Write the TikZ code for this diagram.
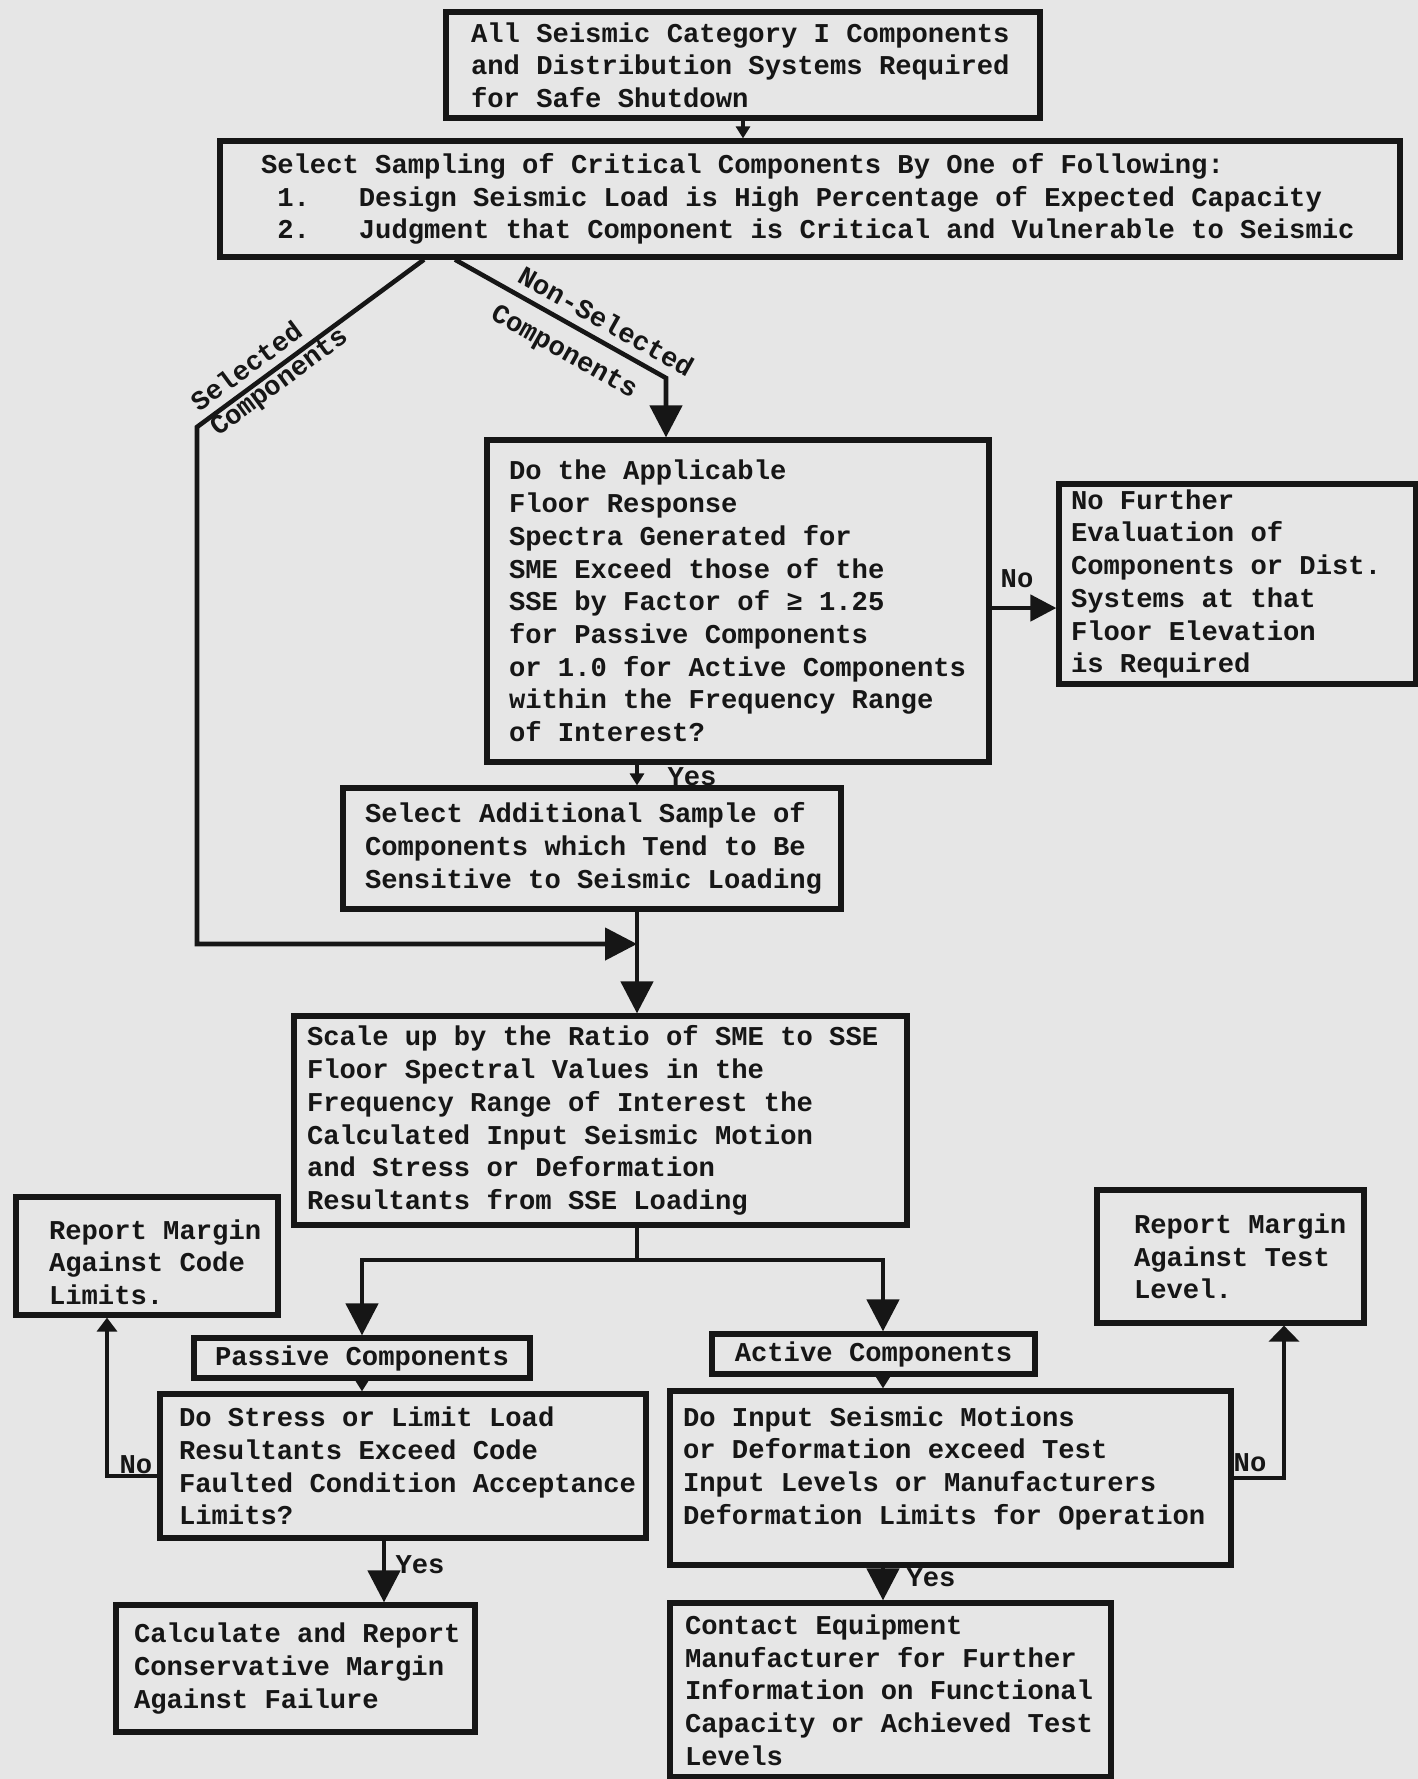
\documentclass[tikz,border=0pt]{standalone}
\usepackage{fontspec}
\newfontfamily\mono{Liberation Mono}
\usetikzlibrary{arrows.meta,calc}
\setlength{\parindent}{0pt}
\frenchspacing
\hbadness=10000
\hfuzz=100pt
\hyphenpenalty=10000
\exhyphenpenalty=10000
\newcommand{\flowfont}{\mono\bfseries\fontsize{13.6pt}{16.35pt}\selectfont}
\newcommand{\flowspace}{\spaceskip=0.6001em\xspaceskip=0.6001em\hyphenpenalty=10000\relax}
\definecolor{bgc}{RGB}{230,230,230}
\definecolor{ink}{RGB}{22,22,22}
\begin{document}
\begin{tikzpicture}[x=0.5pt,y=-0.5pt,
  txt/.style={font=\flowfont, text=ink, execute at begin node=\flowspace},
  box/.style={txt, draw=ink, line width=2.6pt, rectangle, align=left, inner ysep=0pt},
  cbox/.style={txt, draw=ink, line width=2.6pt, rectangle, align=center, inner sep=0pt},
  lbl/.style={txt, inner sep=0pt},
  conn/.style={draw=ink, line width=2.3pt},
  bigtip/.tip={Triangle[length=16pt,width=16pt]},
  midtip/.tip={Triangle[length=13pt,width=13pt]},
  smalltip/.tip={Triangle[length=6pt,width=7pt]},
  codetip/.tip={Triangle[length=7pt,width=10pt]},
  blobtip/.tip={Triangle[length=8pt,width=15pt]}
]
\useasboundingbox (0,0) rectangle (1418,1779);
\fill[bgc] (0,0) rectangle (1418,1779);

% helper coordinates
\coordinate (spine) at (637,0);
\coordinate (sAx) at (424,0);
\coordinate (sB) at (197,427);
\coordinate (nAx) at (455,0);
\coordinate (nB) at (666,378);
\coordinate (j1) at (637,944);
\coordinate (spL) at (362,1260);
\coordinate (spR) at (883,1260);
\coordinate (py) at (384,0);
\coordinate (nl) at (107,0);
\coordinate (nr) at (1284,0);

% boxes
\node[box, minimum width=297pt, minimum height=53pt, inner xsep=12.5pt, text width=272pt] (b1) at (743,65)
  {All~Seismic~Category~I~Components\\and~Distribution~Systems~Required\\for Safe Shutdown};
\node[box, minimum width=590pt, minimum height=58pt, inner xsep=20.5pt, text width=549pt] (b2) at (810,199)
  {Select Sampling of Critical Components By One of Following:\\~1.~~~Design~Seismic~Load~is~High~Percentage~of~Expected~Capacity\\~2.~~~Judgment~that~Component~is~Critical~and~Vulnerable~to~Seismic};
\node[box, minimum width=251pt, minimum height=161pt, inner xsep=11pt, text width=229pt] (b3) at (738,601)
  {Do the Applicable\\Floor Response\\Spectra Generated for\\SME Exceed those of the\\SSE by Factor of ≥ 1.25\\for Passive Components\\or~1.0~for~Active~Components\\within the Frequency Range\\of Interest?};
\node[box, minimum width=178.5pt, minimum height=100pt, inner xsep=6pt, text width=166.5pt] (b4) at (1237.5,584)
  {No Further\\Evaluation of\\Components~or~Dist.\\Systems at that\\Floor Elevation\\is Required};
\node[box, minimum width=249pt, minimum height=60.5pt, inner xsep=11pt, text width=227pt] (b5) at (592,848.5)
  {Select~Additional~Sample~of\\Components~which~Tend~to~Be\\Sensitive~to~Seismic~Loading};
\node[box, minimum width=306.5pt, minimum height=104.5pt, inner xsep=6.5pt, text width=293.5pt] (b6) at (600.5,1120.5)
  {Scale~up~by~the~Ratio~of~SME~to~SSE\\Floor Spectral Values in the\\Frequency~Range~of~Interest~the\\Calculated~Input~Seismic~Motion\\and Stress or Deformation\\Resultants from SSE Loading};
\node[box, minimum width=131pt, minimum height=59pt, inner xsep=16.5pt, text width=98pt] (bc) at (147,1256)
  {Report~Margin\\Against~Code\\Limits.\par\vspace*{-6pt}};
\node[box, minimum width=133.5pt, minimum height=66.5pt, inner xsep=18.5pt, text width=96.5pt] (bt) at (1230.5,1256.5)
  {Report~Margin\\Against~Test\\Level.};
\node[cbox, minimum width=168pt, minimum height=20pt] (bpc) at (362,1358) {Passive Components};
\node[cbox, minimum width=161.5pt, minimum height=20pt] (bac) at (873.5,1354) {Active Components};
\node[box, minimum width=243pt, minimum height=72pt, inner xsep=9.5pt, text width=224pt] (bpd) at (403,1466)
  {Do~Stress~or~Limit~Load\\Resultants~Exceed~Code\\Faulted~Condition~Acceptance\\Limits?};
\node[box, minimum width=280.5pt, minimum height=87pt, inner xsep=6.5pt, text width=267.5pt] (bad) at (950.5,1478)
  {Do Input Seismic Motions\\or~Deformation~exceed~Test\\Input~Levels~or~Manufacturers\\Deformation~Limits~for~Operation\par\vspace*{10pt}};
\node[box, minimum width=179.5pt, minimum height=63.5pt, inner xsep=9pt, text width=161.5pt] (bcalc) at (295.5,1668.5)
  {Calculate~and~Report\\Conservative~Margin\\Against Failure};
\node[box, minimum width=220.5pt, minimum height=87pt, inner xsep=7.5pt, text width=205.5pt] (bcon) at (890.5,1690)
  {Contact Equipment\\Manufacturer~for~Further\\Information~on~Functional\\Capacity~or~Achieved~Test\\Levels};

% connectors
\draw[conn, -{smalltip}] (b1.south) -- (b1.south |- b2.north);

\draw[conn, -{bigtip}] (b2.south -| sAx) -- (sB) -- (sB |- j1) -- (j1);
\path (sB) -- (b2.south -| sAx)
  node[lbl, pos=.27, sloped, above=4.7pt] (lsel1) {Selected}
  node[lbl, pos=.33, sloped, below=1pt] (lsel2) {Components};

\draw[conn, -{bigtip}] (b2.south -| nAx) -- (nB) -- (nB |- b3.north);
\path (b2.south -| nAx) -- (nB)
  node[lbl, pos=.67, sloped, above=5pt] (lns1) {Non-Selected}
  node[lbl, pos=.58, sloped, below=8pt] (lns2) {Components};

\draw[conn, -{midtip}] ([yshift=-3.5pt]b3.east) -- ([yshift=-3.5pt]b3.east -| b4.west);
\node[lbl] (lno1) at (1017,579) {No};

\draw[conn, -{smalltip}] (b3.south -| spine) -- (b5.north -| spine);
\node[lbl] (lyes1) at (692,777) {Yes};

\draw[conn, -{bigtip}] (b5.south -| spine) -- (b6.north -| spine);

\draw[conn] (b6.south -| spine) -- (spine |- spL);
\draw[conn, {bigtip}-{bigtip}] (spL |- bpc.north) -- (spL) -- (spR) -- (spR |- bac.north);

\draw[conn, -{smalltip}] (bpc.south) -- (bpc.south |- bpd.north);
\draw[conn, -{smalltip}] (bac.south -| spR) -- (bad.north -| spR);

\draw[conn, -{bigtip}] (bpd.south -| py) -- (bcalc.north -| py);
\node[lbl] (lyes2) at (420,1565) {Yes};

\draw[conn, -{codetip}] ([yshift=-5pt]bpd.west) -| (bc.south -| nl);
\node[lbl] (lno2) at (136,1465) {No};

\draw[conn, -{bigtip}] (bad.south -| spR) -- (bcon.north -| spR);
\node[lbl] (lyes3) at (931,1578) {Yes};

\draw[conn, -{blobtip}] (bad.east) -| (bt.south -| nr);
\node[lbl] (lno3) at (1250,1463) {No};
\end{tikzpicture}
\end{document}
